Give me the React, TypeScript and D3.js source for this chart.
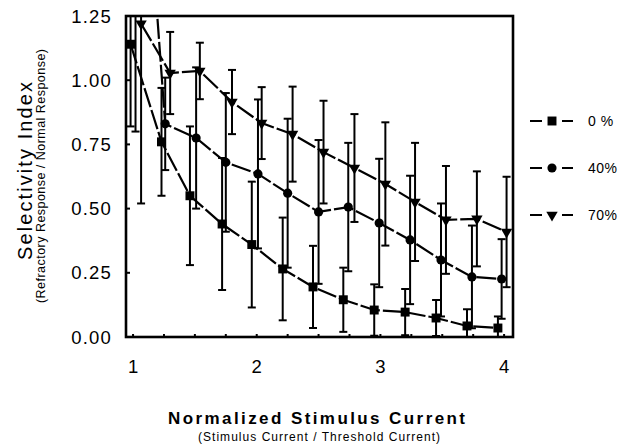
import React from 'react'
import * as d3 from 'd3'

// stimulus levels (normalized), read per series since markers are offset slightly
const squareX = [0.98, 1.23, 1.46, 1.72, 1.96, 2.21, 2.455, 2.7, 2.95, 3.2, 3.45, 3.7, 3.95]
const squareY = [1.14, 0.76, 0.55, 0.44, 0.36, 0.265, 0.195, 0.145, 0.105, 0.097, 0.074, 0.043, 0.035]
const squareErr = [0.32, 0.21, 0.27, 0.257, 0.245, 0.2, 0.16, 0.125, 0.1, 0.09, 0.07, 0.065, 0.045]

const circleX = [1.02, 1.26, 1.51, 1.75, 2.01, 2.25, 2.5, 2.74, 2.99, 3.24, 3.49, 3.74, 3.98]
const circleY = [2.4, 0.83, 0.775, 0.68, 0.635, 0.56, 0.487, 0.506, 0.444, 0.378, 0.3, 0.234, 0.226]
const circleErr = [1.6, 0.18, 0.275, 0.27, 0.29, 0.29, 0.28, 0.25, 0.25, 0.25, 0.22, 0.2, 0.155]

const triangleX = [1.065, 1.3, 1.54, 1.8, 2.04, 2.29, 2.54, 2.79, 3.04, 3.28, 3.53, 3.78, 4.02]
const triangleY = [1.22, 1.028, 1.036, 0.915, 0.833, 0.79, 0.72, 0.658, 0.596, 0.526, 0.456, 0.46, 0.409]
const triangleErr = [0.7, 0.16, 0.11, 0.125, 0.14, 0.185, 0.2, 0.21, 0.24, 0.23, 0.21, 0.185, 0.215]

const seriesNames = ['0 %', '40%', '70%']
const xTickLabels = [1, 2, 3, 4]
const yTickValues = [0, 0.25, 0.5, 0.75, 1.0, 1.25]

const font = '"Liberation Sans", Arial, Helvetica, sans-serif'

export default function App() {
  const left = 126
  const right = 513
  const top = 16
  const bottom = 337

  const x = d3.scaleLinear().domain([0.943, 4.072]).range([left, right])
  const y = d3.scaleLinear().domain([0, 1.25]).range([bottom, top])

  const series = [
    { name: seriesNames[0], xs: squareX, ys: squareY, err: squareErr, symbol: d3.symbolSquare, size: 80, rot: 0 },
    { name: seriesNames[1], xs: circleX, ys: circleY, err: circleErr, symbol: d3.symbolCircle, size: 66, rot: 0 },
    { name: seriesNames[2], xs: triangleX, ys: triangleY, err: triangleErr, symbol: d3.symbolTriangle, size: 56, rot: 180 },
  ]

  const line = d3
    .line<[number, number]>()
    .x(d => x(d[0]))
    .y(d => y(d[1]))

  const minorTicks = d3.range(1, 4.01, 0.25)
  const legendY = [121, 168, 215]
  const cap = 4

  return (
    <svg
      width={620}
      height={445}
      style={{ position: 'absolute', left: 0, top: 0, background: '#fff' }}
      fontFamily={font}
    >
      <defs>
        <clipPath id='plot'>
          <rect x={left} y={top} width={right - left} height={bottom - top} />
        </clipPath>
      </defs>

      <g clipPath='url(#plot)'>
        {series.map((s, si) => (
          <g key={si}>
            {/* error bars */}
            {s.xs.map((xv, i) => {
              const cx = x(xv)
              const hi = y(s.ys[i] + s.err[i])
              const lo = y(s.ys[i] - s.err[i])
              return (
                <g key={i} stroke='#000' strokeWidth={2}>
                  <line x1={cx} x2={cx} y1={hi} y2={lo} />
                  <line x1={cx - cap} x2={cx + cap} y1={hi} y2={hi} />
                  <line x1={cx - cap} x2={cx + cap} y1={lo} y2={lo} />
                </g>
              )
            })}
            <path
              d={line(s.xs.map((xv, i) => [xv, s.ys[i]] as [number, number])) || ''}
              fill='none'
              stroke='#000'
              strokeWidth={2.2}
              strokeDasharray='20,3'
            />
            {s.xs.map((xv, i) => (
              <path
                key={'m' + i}
                d={d3.symbol().type(s.symbol).size(s.size)() || ''}
                transform={`translate(${x(xv)},${y(s.ys[i])}) rotate(${s.rot})`}
                fill='#000'
              />
            ))}
          </g>
        ))}
      </g>

      {/* frame */}
      <rect
        x={left}
        y={top}
        width={right - left}
        height={bottom - top}
        fill='none'
        stroke='#000'
        strokeWidth={2.6}
      />

      {/* y ticks */}
      {yTickValues.map((v, i) => (
        <g key={i}>
          {v > 0 && v < 1.25 && (
            <line x1={left} x2={left + 4} y1={y(v)} y2={y(v)} stroke='#000' strokeWidth={2} />
          )}
          <text
            x={112}
            y={y(v) + 6.5}
            textAnchor='end'
            fontSize={18.5}
            letterSpacing={1.2}
          >
            {d3.format('.2f')(v)}
          </text>
        </g>
      ))}

      {/* x ticks */}
      {minorTicks.map((v, i) => (
        <line key={i} x1={x(v)} x2={x(v)} y1={bottom} y2={bottom - 3} stroke='#000' strokeWidth={2} />
      ))}
      {xTickLabels.map(v => (
        <text key={v} x={x(v)} y={373} textAnchor='middle' fontSize={18.5}>
          {v}
        </text>
      ))}

      {/* axis titles */}
      <text x={168} y={424} fontSize={17} fontWeight='bold' textLength={297} lengthAdjust='spacing'>
        Normalized Stimulus Current
      </text>
      <text x={198} y={441} fontSize={12} textLength={242} lengthAdjust='spacing'>
        (Stimulus Current / Threshold Current)
      </text>
      <text
        transform='translate(32,260) rotate(-90)'
        fontSize={20}
        textLength={178}
        lengthAdjust='spacing'
      >
        Selectivity Index
      </text>
      <text
        transform='translate(45,303) rotate(-90)'
        fontSize={12.5}
        textLength={254}
        lengthAdjust='spacing'
      >
        (Refractory Response / Normal Response)
      </text>

      {/* legend */}
      {series.map((s, i) => (
        <g key={i} transform={`translate(0,${legendY[i]})`}>
          <line x1={530} x2={542} y1={0} y2={0} stroke='#000' strokeWidth={2} />
          <line x1={562} x2={573} y1={0} y2={0} stroke='#000' strokeWidth={2} />
          <path
            d={d3.symbol().type(s.symbol).size(s.size)() || ''}
            transform={`translate(552,0) rotate(${s.rot})`}
            fill='#000'
          />
          <text x={588} y={5} fontSize={14} letterSpacing={0.5}>
            {s.name}
          </text>
        </g>
      ))}
    </svg>
  )
}
